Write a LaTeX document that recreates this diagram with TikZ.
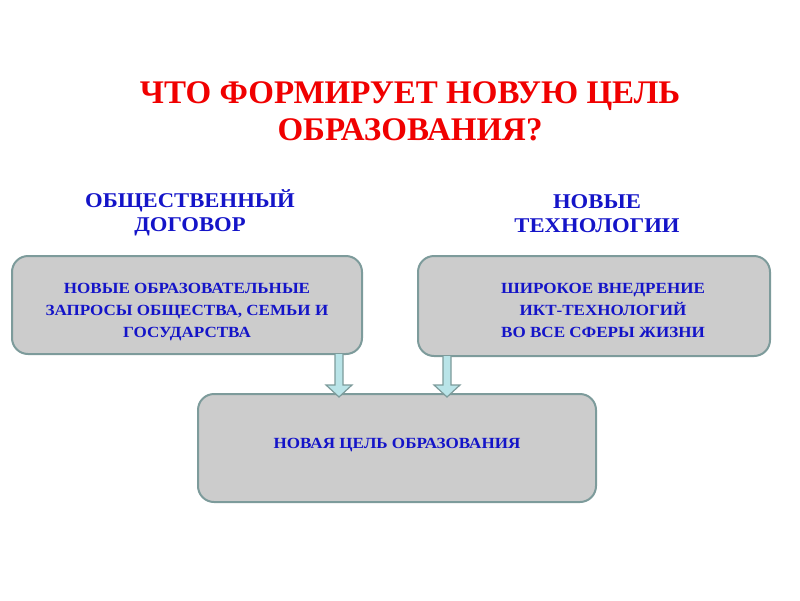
\documentclass[tikz,border=0pt]{standalone}
\usepackage{fontspec}
\setmainfont{Liberation Serif}
\newfontfamily\widefont[FakeStretch=1.08]{Liberation Serif}
\newfontfamily\boxfont[FakeStretch=1.1]{Liberation Serif}
\usetikzlibrary{calc}
\definecolor{titlered}{RGB}{240,0,0}
\definecolor{textblue}{RGB}{20,20,200}
\definecolor{boxfill}{RGB}{204,204,204}
\definecolor{boxline}{RGB}{125,155,155}
\definecolor{arrowfill}{RGB}{185,228,232}
\tikzset{
  box/.style={draw=boxline, line width=2pt, fill=boxfill, rounded corners=16pt, inner sep=0pt},
  boxtext/.style={align=center, text=textblue, font=\boxfont\bfseries\fontsize{15.5}{22}\selectfont, inner sep=0pt},
  head/.style={align=center, text=textblue, font=\widefont\bfseries\fontsize{21}{24}\selectfont},
  blockarrow/.style={draw=boxline, line width=1.2pt, fill=arrowfill, line join=miter}
}
\begin{document}
\begin{tikzpicture}[x=1pt,y=1pt]
\useasboundingbox (0,0) rectangle (800,-600);
\node[align=center, text=titlered, font=\bfseries\fontsize{33}{37}\selectfont] (title) at (410,-111) {ЧТО ФОРМИРУЕТ НОВУЮ ЦЕЛЬ\\ОБРАЗОВАНИЯ?};
\node[head] (h1) at (190,-213) {ОБЩЕСТВЕННЫЙ\\ДОГОВОР};
\node[head] (h2) at (597,-214) {НОВЫЕ\\ТЕХНОЛОГИИ};
\node[box, minimum width=350pt, minimum height=98pt] (b1) at (187,-305) {};
\node[box, minimum width=352pt, minimum height=100pt] (b2) at (594,-306) {};
\node[box, minimum width=398pt, minimum height=108pt] (b3) at (397,-448) {};
\node[boxtext] (t1) at ($(b1.center)+(0,-7)$) {НОВЫЕ ОБРАЗОВАТЕЛЬНЫЕ\\ЗАПРОСЫ ОБЩЕСТВА, СЕМЬИ И\\ГОСУДАРСТВА};
\node[boxtext] (t2) at ($(b2.center)+(9,-4)$) {ШИРОКОЕ ВНЕДРЕНИЕ\\ИКТ-ТЕХНОЛОГИЙ\\ВО ВСЕ СФЕРЫ ЖИЗНИ};
\node[boxtext] (t3) at ($(b3.center)+(0,3)$) {НОВАЯ ЦЕЛЬ ОБРАЗОВАНИЯ};
\coordinate (s1) at ($(b1.south east)+(-24,1)$);
\coordinate (e1) at ($(s1 |- b3.north)+(0,-4)$);
\coordinate (s2) at ($(b2.south west)+(30,1)$);
\coordinate (e2) at ($(s2 |- b3.north)+(0,-4)$);
\foreach \s/\e in {s1/e1, s2/e2}{
  \draw[blockarrow] ($(\s)+(-4,0)$) -- ($(\e)+(-4,12)$) -- ($(\e)+(-13,12)$) -- (\e) -- ($(\e)+(13,12)$) -- ($(\e)+(4,12)$) -- ($(\s)+(4,0)$);
}
\end{tikzpicture}
\end{document}
